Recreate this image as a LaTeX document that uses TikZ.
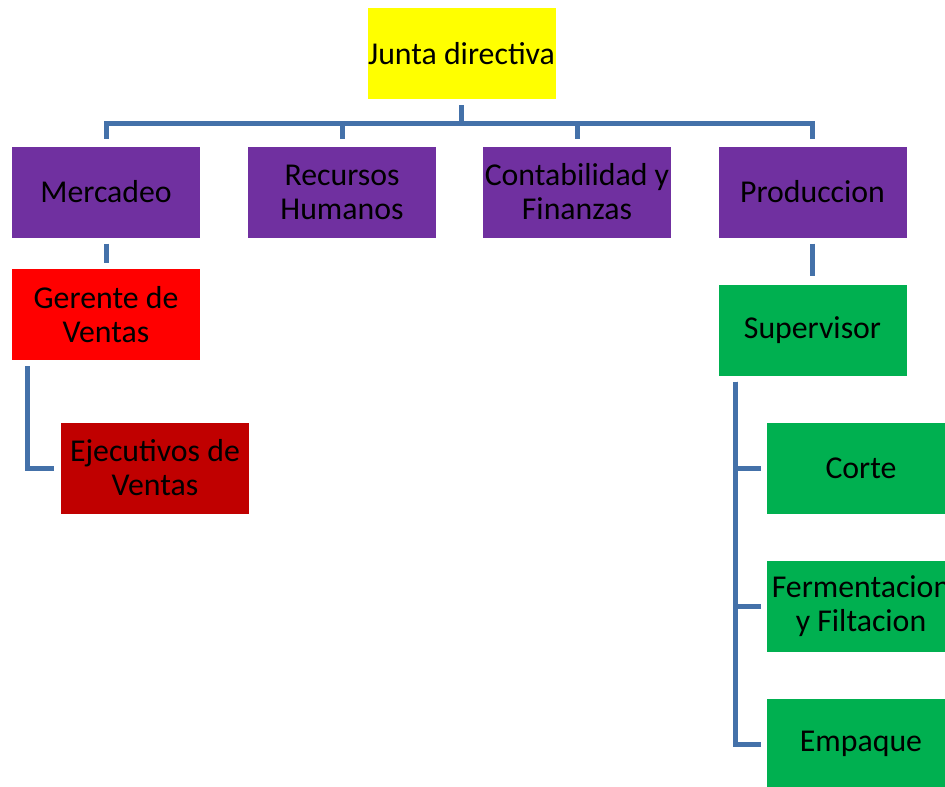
\documentclass[tikz,border=0pt]{standalone}
\usepackage{fontspec}
\setmainfont{Carlito}
\usetikzlibrary{calc}
\definecolor{cyel}{HTML}{FFFF00}
\definecolor{cpur}{HTML}{7030A0}
\definecolor{cred}{HTML}{FF0000}
\definecolor{cdred}{HTML}{C00000}
\definecolor{cgrn}{HTML}{00B050}
\definecolor{cline}{HTML}{4471A9}
\tikzset{
  box/.style={rectangle, inner sep=0pt, minimum width=188pt, minimum height=91pt,
    align=center, font=\fontsize{31.8}{34}\selectfont, text=black},
  conn/.style={draw=cline, line width=5pt, line join=miter},
}
\begin{document}
\begin{tikzpicture}[x=1pt,y=-1pt]
\useasboundingbox (0,0) rectangle (945,787);
\node[box, fill=cyel] (junta) at (461.5,53.5) {Junta directiva};
\node[box, fill=cpur] (merc) at (106,192) {Mercadeo};
\node[box, fill=cpur] (rrhh) at (342,192) {Recursos\\Humanos};
\node[box, fill=cpur] (cont) at (577,192) {Contabilidad y\\Finanzas};
\node[box, fill=cpur] (prod) at (812.5,192) {Produccion};
\node[box, fill=cred] (ger) at (106,314.5) {Gerente de\\Ventas};
\node[box, fill=cdred] (ejec) at (155,468) {Ejecutivos de\\Ventas};
\node[box, fill=cgrn] (sup) at (812.5,330) {Supervisor};
\node[box, fill=cgrn] (corte) at (861,468) {Corte};
\node[box, fill=cgrn] (ferm) at (861,606) {Fermentacion\\y Filtacion};
\node[box, fill=cgrn] (emp) at (861,744) {Empaque};
% connectors
\foreach \c in {merc,rrhh,cont,prod}
  \draw[conn, shorten <=6pt, shorten >=7pt] (junta.south) -- ++(0,24) -| (\c.north);
\draw[conn, shorten <=6pt, shorten >=6pt] (merc.south) -- (ger.north);
\draw[conn, shorten <=6pt, shorten >=7pt] ([xshift=16pt]ger.south west) |- (ejec.west);
\draw[conn, shorten <=6pt, shorten >=8pt] (prod.south) -- (sup.north);
\foreach \c in {corte,ferm,emp}
  \draw[conn, shorten <=6pt, shorten >=6pt] ([xshift=17pt]sup.south west) |- (\c.west);
\end{tikzpicture}
\end{document}
